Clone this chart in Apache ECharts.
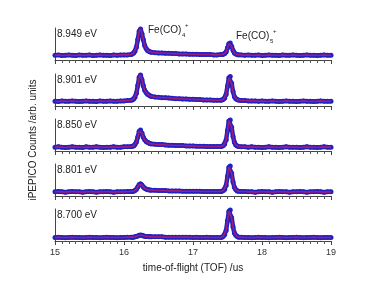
<!DOCTYPE html>
<html>
<head>
<meta charset="utf-8">
<script src="https://cdn.jsdelivr.net/npm/echarts@6/dist/echarts.min.js"></script>
<style>html,body{margin:0;padding:0;background:#fff;}#c{width:367px;height:283px;}</style>
</head>
<body>
<div id="c"></div>
<script>
// time-of-flight grid (us)
const tof = [
  15.00,15.05,15.10,15.15,15.20,15.25,15.30,15.35,15.40,15.45,15.50,15.55,15.60,15.65,15.70,15.75,15.80,15.85,15.90,15.95,16.00,16.05,16.10,
  16.12,16.14,16.16,16.18,16.20,16.22,16.24,16.26,16.28,16.30,16.32,16.34,16.36,16.38,16.40,
  16.45,16.50,16.55,16.60,16.65,16.70,16.75,16.80,16.85,16.90,16.95,17.00,17.05,17.10,17.15,17.20,17.25,17.30,17.35,17.40,
  17.42,17.44,17.46,17.48,17.50,17.52,17.54,17.56,17.58,17.60,17.62,17.64,17.66,
  17.70,17.75,17.80,17.85,17.90,17.95,18.00,18.05,18.10,18.15,18.20,18.25,18.30,18.35,18.40,18.45,18.50,18.55,18.60,18.65,18.70,18.75,18.80,18.85,18.90,18.95,19.00
];

const energies = ['8.949 eV', '8.901 eV', '8.850 eV', '8.801 eV', '8.700 eV'];

const counts8949 = [
  15,16,14,15,16,15,14,16,15,15,16,14,15,16,15,15,14,16,15,16,16,16,17,
  19,22,27,40,64,90,97,82,63,45,36,30,27,25,24,
  23,22,22,21,21,20,20,19,19,19,18,18,18,17,17,17,17,16,16,17,
  17,18,20,25,38,51,53,43,30,22,19,17,16,
  16,15,16,15,15,16,14,15,16,15,15,14,16,15,15,16,15,14,15,16,15,15,14,15,16,15,15
];
const counts8901 = [
  15,14,16,15,15,16,15,14,15,16,15,15,14,16,15,15,16,15,15,16,16,17,18,
  19,22,27,40,64,90,97,82,63,49,42,37,34,31,30,
  28,27,26,26,25,24,23,23,22,22,21,21,20,20,19,19,19,18,18,18,
  19,21,25,36,62,88,92,71,45,29,23,20,18,
  17,17,16,16,16,15,16,15,15,16,15,14,15,16,15,15,14,15,16,15,15,14,15,16,15,15,15
];
const counts8850 = [
  12,13,12,11,12,13,12,12,11,13,12,12,13,12,11,12,12,13,12,12,13,13,14,
  15,16,20,28,44,62,66,56,43,35,30,27,25,23,22,
  21,20,20,19,18,18,17,17,17,16,16,16,15,15,15,14,14,14,14,14,
  15,17,22,34,64,94,97,74,45,27,19,16,14,
  13,13,12,13,12,12,11,12,13,12,12,11,12,13,12,12,12,11,12,13,12,12,11,12,13,12,12
];
const counts8801 = [
  13,14,13,12,13,14,13,13,12,13,14,13,12,13,13,14,13,12,13,13,13,14,14,
  14,15,17,21,28,36,38,34,28,24,22,20,19,19,18,
  18,17,17,17,16,16,16,16,15,15,15,15,15,15,14,14,14,14,14,14,
  15,17,21,33,61,90,94,71,44,27,20,16,15,
  14,14,13,13,12,13,14,13,13,12,13,14,13,13,12,13,13,14,13,12,13,13,14,13,12,13,13
];
const counts8700 = [
  11,12,11,10,11,12,11,11,10,11,12,11,11,10,11,12,11,11,10,11,11,12,12,
  12,12,13,14,16,18,19,18,16,15,14,14,13,13,13,
  13,13,13,12,12,12,12,12,12,12,12,11,12,11,11,12,11,11,11,11,
  12,15,20,33,63,93,97,73,44,25,18,14,12,
  12,11,11,10,11,12,11,11,10,11,11,12,11,10,11,11,12,11,10,11,11,12,11,10,11,11,11
];
const panels = [counts8949, counts8901, counts8850, counts8801, counts8700];
const xTicks = ['15', '16', '17', '18', '19'];

const FONT = 'Liberation Sans, Arial, sans-serif';
const tops = [28, 74, 119, 164, 209];
const PH = 32;

const grids = [], xAxes = [], yAxes = [], series = [];
panels.forEach((arr, i) => {
  const last = i === panels.length - 1;
  grids.push({ left: 55, right: 36, top: tops[i], height: PH });
  xAxes.push({
    type: 'value', gridIndex: i, min: 15, max: 19, interval: 1,
    axisLine: { show: true, onZero: false, lineStyle: { color: '#444', width: 1 } },
    axisTick: { show: true, length: 4, lineStyle: { color: '#444' } },
    minorTick: { show: true, splitNumber: 10, length: 3, lineStyle: { color: '#555' } },
    splitLine: { show: false },
    axisLabel: { show: last, color: '#333', fontSize: 9, fontFamily: FONT, margin: 7,
      formatter: v => xTicks[Math.round(v - 15)] },
    name: last ? 'time-of-flight (TOF) /us' : '',
    nameLocation: 'middle', nameGap: 22,
    nameTextStyle: { color: '#222', fontSize: 10, fontFamily: FONT }
  });
  yAxes.push({
    type: 'value', gridIndex: i, min: 0, max: 100,
    axisLine: { show: true, lineStyle: { color: '#444', width: 1 } },
    axisTick: { show: false }, axisLabel: { show: false }, splitLine: { show: false }
  });
  const data = tof.map((t, k) => [t, arr[k]]);
  series.push({
    type: 'line', xAxisIndex: i, yAxisIndex: i, data,
    symbol: 'circle', symbolSize: 5, showSymbol: true,
    itemStyle: { color: '#2020c4' },
    lineStyle: { color: '#2020c4', width: 4.5 },
    silent: true, animation: false, z: 2
  });
  series.push({
    type: 'line', xAxisIndex: i, yAxisIndex: i, data,
    symbol: 'none', lineStyle: { color: '#9a1e7e', width: 1.6 },
    silent: true, animation: false, z: 3
  });
});

const graphic = [];
energies.forEach((e, i) => {
  graphic.push({ type: 'text', left: 57, top: tops[i] + 1,
    style: { text: e, fill: '#222', font: '10px ' + FONT } });
});
graphic.push({ type: 'text', x: 33, y: 140, rotation: Math.PI / 2,
  style: { text: 'iPEPICO Counts /arb. units', fill: '#222', font: '10px ' + FONT,
    align: 'center', verticalAlign: 'middle' } });
// peak labels
graphic.push({ type: 'text', x: 148, y: 25, style: { text: 'Fe(CO)', fill: '#222', font: '10px ' + FONT } });
graphic.push({ type: 'text', x: 182, y: 32, style: { text: '4', fill: '#222', font: '6px ' + FONT } });
graphic.push({ type: 'text', x: 185, y: 22, style: { text: '+', fill: '#222', font: '6px ' + FONT } });
graphic.push({ type: 'text', x: 236, y: 31, style: { text: 'Fe(CO)', fill: '#222', font: '10px ' + FONT } });
graphic.push({ type: 'text', x: 270, y: 38, style: { text: '5', fill: '#222', font: '6px ' + FONT } });
graphic.push({ type: 'text', x: 273, y: 28, style: { text: '+', fill: '#222', font: '6px ' + FONT } });

const chart = echarts.init(document.getElementById('c'), null, { renderer: 'canvas' });
chart.setOption({
  animation: false,
  backgroundColor: '#fff',
  grid: grids, xAxis: xAxes, yAxis: yAxes, series, graphic
});
</script>
</body>
</html>
